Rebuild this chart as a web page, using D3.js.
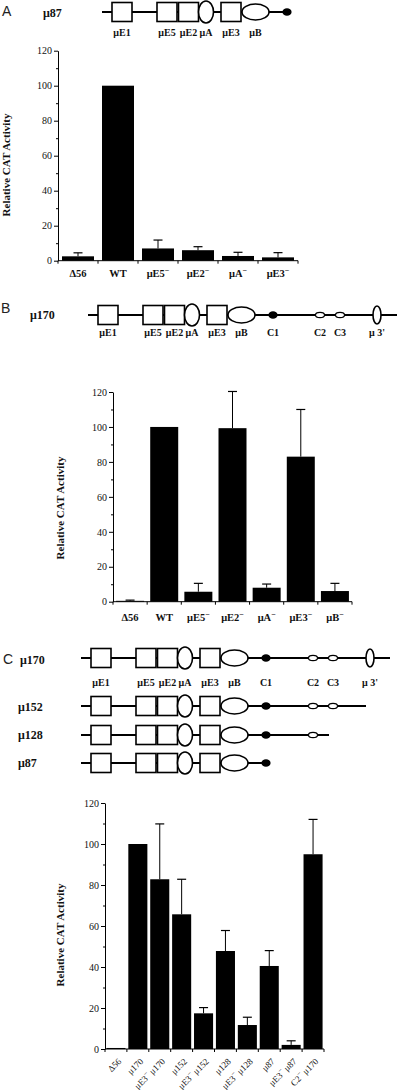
<!DOCTYPE html>
<html><head><meta charset="utf-8">
<script src="https://cdn.jsdelivr.net/npm/d3@7"></script>
<style>body{margin:0;background:#fff}svg{display:block}</style>
</head><body>
<svg id="c" width="400" height="1090"></svg>
<script>
// ---------- data ----------
const yTicks = [0, 20, 40, 60, 80, 100, 120];
const minorTicks = [10, 30, 50, 70, 90, 110];

const catsA = ["Δ56", "WT", "μE5^", "μE2^", "μA^", "μE3^"];
const valsA = [2.5, 100, 7, 6, 2.7, 1.9];
const errA  = [2, 0, 4.8, 2, 2.1, 2.7];

const catsB = ["Δ56", "WT", "μE5^", "μE2^", "μA^", "μE3^", "μB^"];
const valsB = [0.5, 100, 5.7, 99.3, 8, 83, 6.1];
const errB  = [0.4, 0, 4.8, 21, 2.1, 27, 4.4];

const catsC = ["Δ56", "μ170", "μE3^ μ170", "μ152", "μE3^ μ152", "μ128", "μE3^ μ128", "μ87", "μE3^ μ87", "C2^ μ170"];
const valsC = [0.5, 100, 82.8, 65.7, 17.4, 47.8, 11.7, 40.5, 2, 95];
const errC  = [0, 0, 27, 17.1, 2.8, 10, 3.8, 7.5, 2, 17];

// promoter map elements (map units relative to μE1)
const elemNames  = ["μE1", "μE5", "μE2", "μA", "μE3", "μB", "C1", "C2", "C3", "μ 3'"];
const elemShapes = ["box", "box", "box", "tall", "box", "wide", "dot", "open", "open", "thin"];
const elemPos    = [0, 45, 66.5, 84, 109, 133.5, 165, 212, 232, 269];
const constructs    = ["μ170", "μ152", "μ128", "μ87"];
const constructLast = [9, 8, 7, 6];
const constructTail = [20, 33, 16, 0];

// ---------- drawing ----------
const svg = d3.select("#c");
const SERIF = "'Liberation Serif','Times New Roman',serif";
const SANS = "'Liberation Sans','DejaVu Sans',sans-serif";

function addLabel(sel, str) {
  const parts = str.split("^");
  sel.append("tspan").text(parts[0]);
  if (parts.length > 1) {
    sel.append("tspan").attr("dy", -4).attr("font-size", "0.75em").text("−");
    sel.append("tspan").attr("dy", 4).text(parts[1]);
  }
}

function panelLetter(t, x, y) {
  svg.append("text").attr("x", x).attr("y", y).attr("font-family", SANS)
    .attr("font-size", 14).attr("fill", "#222").text(t);
}
function rowLabel(t, x, y) {
  svg.append("text").attr("x", x).attr("y", y).attr("font-family", SERIF)
    .attr("font-weight", "bold").attr("font-size", 12).attr("fill", "#111").text(t);
}

function diagram(ci, originX, cy, labelDy, labelMax) {
  const xs = d3.scaleLinear().domain([0, 1]).range([originX, originX + 1]);
  const g = svg.append("g");
  const last = constructLast[ci];
  g.append("line").attr("x1", xs(-20)).attr("x2", xs(elemPos[last] + constructTail[ci]))
    .attr("y1", cy).attr("y2", cy).attr("stroke", "#000").attr("stroke-width", 2);
  const idx = d3.range(last + 1);
  idx.forEach(i => {
    const cx = xs(elemPos[i]);
    const s = elemShapes[i];
    if (s === "box") {
      g.append("rect").attr("x", cx - 10).attr("y", cy - 9.5).attr("width", 20).attr("height", 19)
        .attr("fill", "#fff").attr("stroke", "#000").attr("stroke-width", 1.6);
    } else {
      const r = {tall: [7.5, 11], wide: [13.5, 8], dot: [3.8, 3], open: [4.5, 2.6], thin: [4, 9]}[s];
      g.append("ellipse").attr("cx", cx).attr("cy", cy).attr("rx", r[0]).attr("ry", r[1])
        .attr("fill", s === "dot" ? "#000" : "#fff").attr("stroke", "#000").attr("stroke-width", s === "open" ? 1.2 : 1.6);
    }
    if (labelDy != null && i <= labelMax) {
      g.append("text").attr("x", cx).attr("y", cy + labelDy).attr("text-anchor", "middle")
        .attr("font-family", SERIF).attr("font-weight", "bold").attr("font-size", 10).attr("fill", "#111")
        .text(elemNames[i]);
    }
  });
}

function chart(c) {
  const g = svg.append("g");
  const y = d3.scaleLinear().domain([0, 120]).range([c.y0, c.y120]);
  const x = d3.scaleBand().domain(c.cats).range([c.x0, c.x1]).paddingInner(c.pad).paddingOuter(c.pad / 2);

  const ya = g.append("g").attr("transform", `translate(${c.x0},0)`)
    .call(d3.axisLeft(y).tickValues(yTicks).tickSize(4).tickSizeOuter(0).tickPadding(2));
  ya.attr("font-family", SERIF).attr("font-size", 10);
  ya.select(".domain").attr("stroke", "#000");
  ya.selectAll("text").attr("fill", "#111");
  g.append("g").attr("transform", `translate(${c.x0},0)`)
    .call(d3.axisLeft(y).tickValues(minorTicks).tickSize(2).tickFormat(""))
    .select(".domain").remove();

  g.append("line").attr("x1", c.x0).attr("x2", c.x1).attr("y1", c.y0).attr("y2", c.y0)
    .attr("stroke", "#000");
  const bounds = d3.range(c.cats.length + 1).map(i => c.x0 + i * x.step());
  g.selectAll("line.bt").data(bounds).join("line").attr("class", "bt")
    .attr("x1", d => d).attr("x2", d => d).attr("y1", c.y0).attr("y2", c.y0 + 3)
    .attr("stroke", "#000");

  g.selectAll("rect.bar").data(c.vals).join("rect").attr("class", "bar")
    .attr("x", (d, i) => x(c.cats[i])).attr("width", x.bandwidth())
    .attr("y", d => y(d)).attr("height", d => c.y0 - y(d)).attr("fill", "#000");

  c.vals.forEach((v, i) => {
    const e = c.errs[i];
    if (!e) return;
    const cx = x(c.cats[i]) + x.bandwidth() / 2;
    g.append("line").attr("x1", cx).attr("x2", cx).attr("y1", y(v)).attr("y2", y(v + e))
      .attr("stroke", "#000").attr("stroke-width", 1);
    g.append("line").attr("x1", cx - 4.5).attr("x2", cx + 4.5).attr("y1", y(v + e)).attr("y2", y(v + e))
      .attr("stroke", "#000").attr("stroke-width", 1.2);
  });

  c.cats.forEach((cat, i) => {
    const cx = x(cat) + x.bandwidth() / 2;
    if (c.rotate) {
      const t = g.append("text").attr("text-anchor", "end")
        .attr("transform", `translate(${cx + 6},${c.labelY}) rotate(-45)`)
        .attr("font-family", SERIF).attr("font-size", 9).attr("fill", "#111");
      addLabel(t, cat);
    } else {
      const t = g.append("text").attr("x", cx).attr("y", c.labelY).attr("text-anchor", "middle")
        .attr("font-family", SERIF).attr("font-weight", "bold").attr("font-size", 10.5).attr("fill", "#111");
      addLabel(t, cat);
    }
  });

  g.append("text").attr("transform", `translate(${c.titleX},${c.titleY}) rotate(-90)`)
    .attr("text-anchor", "middle").attr("font-family", SERIF).attr("font-weight", "bold")
    .attr("font-size", 11).attr("fill", "#111").text("Relative CAT Activity");
}

// Panel A
panelLetter("A", 2, 16);
rowLabel("μ87", 43, 17);
diagram(3, 122, 12, 24, 5);
chart({cats: catsA, vals: valsA, errs: errA, x0: 58, x1: 298, y0: 260.7, y120: 50.7,
  pad: 0.2, rotate: false, labelY: 277, titleX: 10, titleY: 165});

// Panel B
panelLetter("B", 1, 313);
rowLabel("μ170", 30, 319);
diagram(0, 108, 315, 21, 9);
chart({cats: catsB, vals: valsB, errs: errB, x0: 113, x1: 352, y0: 601.7, y120: 392,
  pad: 0.18, rotate: false, labelY: 621, titleX: 64, titleY: 508});

// Panel C
panelLetter("C", 3, 664);
rowLabel("μ170", 20, 664);
diagram(0, 101, 658, 28, 9);
rowLabel("μ152", 18, 711);
diagram(1, 101, 706, null, -1);
rowLabel("μ128", 18, 739);
diagram(2, 101, 735, null, -1);
rowLabel("μ87", 18, 767);
diagram(3, 101, 763, null, -1);
chart({cats: catsC, vals: valsC, errs: errC, x0: 105, x1: 324, y0: 1049, y120: 803,
  pad: 0.13, rotate: true, labelY: 1062, titleX: 64, titleY: 935});
</script>
</body></html>
